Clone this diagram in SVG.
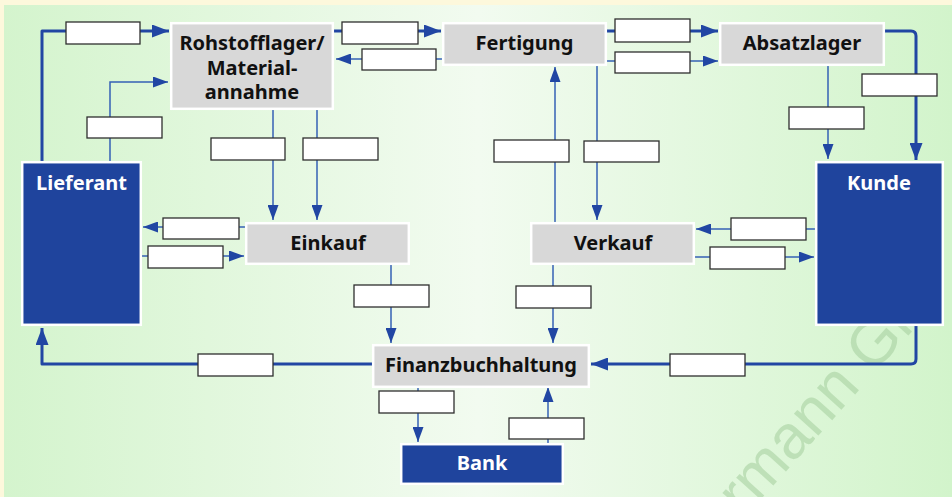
<svg xmlns="http://www.w3.org/2000/svg" width="952" height="497" viewBox="0 0 952 497">
<defs>
<linearGradient id="bg" x1="0" y1="0" x2="1" y2="0">
<stop offset="0" stop-color="#d4f4cd"/>
<stop offset="0.5" stop-color="#f2fbf0"/>
<stop offset="1" stop-color="#d2f4cb"/>
</linearGradient>
<marker id="ah" markerUnits="userSpaceOnUse" markerWidth="18" markerHeight="13" refX="17" refY="6.5" orient="auto">
<path d="M0,0 L17,6.5 L0,13 z" fill="#2146a3"/>
</marker>
<marker id="ahs" markerUnits="userSpaceOnUse" markerWidth="16" markerHeight="11" refX="15" refY="5.5" orient="auto">
<path d="M0,0 L15,5.5 L0,11 z" fill="#2146a3"/>
</marker>
<style>
.thick{fill:none;stroke:#2146a3;stroke-width:3;stroke-linejoin:round;marker-end:url(#ah)}
.thin{fill:none;stroke:#3560b5;stroke-width:1.5;marker-end:url(#ahs)}
.lbl{fill:#ffffff;stroke:#2e2e2e;stroke-width:1.3}
.gray{fill:#d8d8d8;stroke:#ffffff;stroke-width:2.5}
.blue{fill:#1f449d;stroke:#ffffff;stroke-width:2.5}
.t{font-family:"Noto Sans","DejaVu Sans",sans-serif;font-weight:bold;font-size:20px;text-anchor:middle;fill:#111111}
.tw{font-family:"Noto Sans","DejaVu Sans",sans-serif;font-weight:bold;font-size:20px;text-anchor:middle;fill:#ffffff}
.wm{font-family:"Liberation Sans","Noto Sans",sans-serif;font-size:62px;fill:#a9d2a2;opacity:0.6}
</style>
</defs>
<rect x="0" y="0" width="952" height="497" fill="#fdf8dc"/>
<rect x="4" y="5" width="948" height="492" fill="url(#bg)"/>
<text class="wm" transform="translate(744,518) rotate(-48)">rmann Gru</text>

<g id="connectors">
<path class="thick" d="M42,161 V31 H169"/>
<path class="thick" d="M334,31 H441"/>
<path class="thick" d="M607,31 H718"/>
<path class="thick" d="M885,31 H911 Q916,31 916,36 V160"/>
<path class="thick" d="M916,326 V359 Q916,364 911,364 H591"/>
<path class="thick" d="M372,364 H42 V328"/>
<path class="thin" d="M110,161 V82 H168"/>
<path class="thin" d="M273,110 V220"/>
<path class="thin" d="M317,110 V220"/>
<path class="thin" d="M442,59 H336"/>
<path class="thin" d="M607,61 H718"/>
<path class="thin" d="M828,65 V159"/>
<path class="thin" d="M555,222 V67"/>
<path class="thin" d="M597,65 V220"/>
<path class="thin" d="M245,227 H143"/>
<path class="thin" d="M142,256 H244"/>
<path class="thin" d="M815,229 H696"/>
<path class="thin" d="M695,257 H814"/>
<path class="thin" d="M391,265 V343"/>
<path class="thin" d="M553,265 V343"/>
<path class="thin" d="M418,388 V442"/>
<path class="thin" d="M548,443 V387"/>
<g id="labels">
<rect class="lbl" x="66" y="22" width="74" height="22"/>
<rect class="lbl" x="87" y="117" width="75" height="21"/>
<rect class="lbl" x="211" y="138" width="74" height="22"/>
<rect class="lbl" x="303" y="138" width="75" height="22"/>
<rect class="lbl" x="342" y="22" width="76" height="22"/>
<rect class="lbl" x="362" y="49" width="74" height="21"/>
<rect class="lbl" x="615" y="19" width="75" height="23"/>
<rect class="lbl" x="615" y="52" width="75" height="21"/>
<rect class="lbl" x="789" y="107" width="75" height="22"/>
<rect class="lbl" x="862" y="74" width="75" height="22"/>
<rect class="lbl" x="494" y="140" width="75" height="22"/>
<rect class="lbl" x="584" y="141" width="75" height="21"/>
<rect class="lbl" x="163" y="218" width="76" height="21"/>
<rect class="lbl" x="148" y="246" width="75" height="22"/>
<rect class="lbl" x="354" y="285" width="75" height="22"/>
<rect class="lbl" x="516" y="286" width="75" height="22"/>
<rect class="lbl" x="731" y="218" width="75" height="22"/>
<rect class="lbl" x="710" y="247" width="75" height="22"/>
<rect class="lbl" x="670" y="354" width="75" height="22"/>
<rect class="lbl" x="198" y="354" width="75" height="22"/>
<rect class="lbl" x="379" y="391" width="75" height="22"/>
<rect class="lbl" x="509" y="418" width="75" height="21"/>
</g>
</g>

<g id="rohstofflager">
<rect class="gray" x="171.2" y="23.2" width="161.6" height="85.6"/>
<text class="t" x="252" y="50">Rohstofflager/</text>
<text class="t" x="252" y="74.5">Material-</text>
<text class="t" x="252" y="99">annahme</text>
</g>
<g id="fertigung">
<rect class="gray" x="443.2" y="23.2" width="162.6" height="41.6"/>
<text class="t" x="524.5" y="50">Fertigung</text>
</g>
<g id="absatzlager">
<rect class="gray" x="720.2" y="23.2" width="163.6" height="41.6"/>
<text class="t" x="802" y="50">Absatzlager</text>
</g>
<g id="lieferant">
<rect class="blue" x="22.2" y="162.2" width="118.6" height="162.6"/>
<text class="tw" x="81.5" y="190">Lieferant</text>
</g>
<g id="kunde">
<rect class="blue" x="816.2" y="162.2" width="126.6" height="162.6"/>
<text class="tw" x="879" y="190">Kunde</text>
</g>
<g id="einkauf">
<rect class="gray" x="246.2" y="223.2" width="162.6" height="40.6"/>
<text class="t" x="328" y="250">Einkauf</text>
</g>
<g id="verkauf">
<rect class="gray" x="531.2" y="223.2" width="162.6" height="40.6"/>
<text class="t" x="613" y="250">Verkauf</text>
</g>
<g id="finanzbuchhaltung">
<rect class="gray" x="373.2" y="345.2" width="215.6" height="41.6"/>
<text class="t" x="481" y="372">Finanzbuchhaltung</text>
</g>
<g id="bank">
<rect class="blue" x="401.2" y="444.2" width="161.6" height="39.6"/>
<text class="tw" x="482" y="470">Bank</text>
</g>
</svg>
